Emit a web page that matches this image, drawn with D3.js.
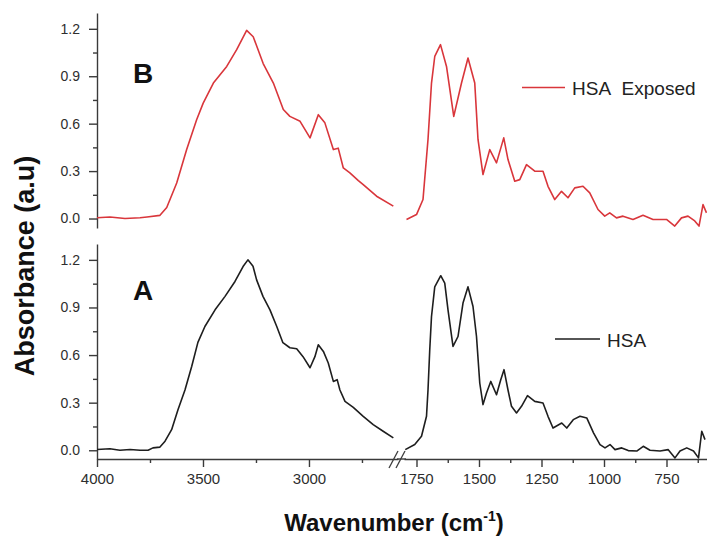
<!DOCTYPE html>
<html><head><meta charset="utf-8">
<script src="https://cdn.jsdelivr.net/npm/d3@7"></script>
<style>
body{margin:0;background:#fff;}
svg{display:block;font-family:"Liberation Sans",Arial,sans-serif;}
</style></head>
<body>
<svg id="c" width="707" height="538"></svg>
<script>
// ---- data (wavenumber cm-1, absorbance a.u.) ----
const yTicks = [0, 0.3, 0.6, 0.9, 1.2];
const yMinorTicks = [0.15, 0.45, 0.75, 1.05];
const xTicksLeft = [4000, 3500, 3000];
const xMinorLeft = [3750, 3250, 2750];
const xTicksRight = [1750, 1500, 1250, 1000, 750];
const xMinorRight = [1625, 1375, 1125, 875, 625];

// Spectrum A (HSA), high-wavenumber segment
const aLeftWn  = [4000,3939,3892,3844,3797,3759,3736,3703,3679,3648,3618,3585,3553,3524,3491,3443,3396,3349,3311,3288,3264,3247,3217,3184,3152,3123,3090,3058,3028,2995,2972,2956,2932,2909,2885,2867,2854,2830,2791,2744,2697,2650,2602];
const aLeftAbs = [0.005,0.01,0.0,0.005,0.0,0.0,0.015,0.02,0.057,0.13,0.256,0.38,0.53,0.68,0.78,0.885,0.97,1.064,1.158,1.20,1.16,1.074,0.97,0.885,0.78,0.678,0.646,0.64,0.59,0.52,0.59,0.665,0.623,0.55,0.434,0.445,0.38,0.308,0.27,0.214,0.162,0.12,0.078];
// Spectrum A (HSA), fingerprint segment
const aRightWn  = [1795,1757,1730,1710,1704,1697,1690,1677,1653,1637,1624,1604,1584,1564,1544,1524,1510,1497,1484,1470,1453,1430,1413,1400,1384,1370,1350,1330,1306,1277,1244,1224,1204,1169,1149,1123,1096,1069,1042,1016,996,976,956,929,903,869,843,816,776,743,716,696,669,642,622,609,596];
const aRightAbs = [0.004,0.036,0.088,0.214,0.38,0.634,0.843,1.03,1.10,1.053,0.885,0.655,0.717,0.928,1.03,0.906,0.717,0.424,0.288,0.361,0.434,0.35,0.445,0.508,0.38,0.277,0.235,0.277,0.344,0.308,0.298,0.214,0.14,0.172,0.14,0.193,0.214,0.204,0.11,0.036,0.015,0.036,0.004,0.015,-0.002,-0.005,0.025,0.0,-0.005,0.004,-0.048,-0.005,0.015,-0.005,-0.048,0.12,0.067];

// Spectrum B (HSA Exposed), high-wavenumber segment
const bLeftWn  = [4000,3939,3868,3797,3764,3703,3671,3624,3577,3530,3499,3451,3388,3341,3294,3263,3216,3168,3121,3090,3042,2995,2956,2925,2885,2862,2838,2807,2767,2744,2681,2602];
const bLeftAbs = [0.005,0.01,0.0,0.005,0.01,0.02,0.07,0.225,0.436,0.625,0.73,0.857,0.962,1.068,1.19,1.15,0.98,0.857,0.69,0.646,0.615,0.51,0.657,0.605,0.436,0.445,0.32,0.289,0.24,0.215,0.141,0.078];
// Spectrum B (HSA Exposed), fingerprint segment
const bRightWn  = [1790,1750,1724,1704,1690,1677,1654,1630,1601,1570,1544,1517,1504,1484,1457,1430,1401,1384,1357,1337,1310,1277,1244,1224,1197,1170,1144,1117,1084,1057,1024,997,977,950,924,884,844,804,750,717,690,664,637,620,604,590];
const bRightAbs = [-0.006,0.025,0.12,0.5,0.857,1.025,1.10,0.962,0.646,0.857,1.015,0.857,0.5,0.278,0.436,0.352,0.51,0.373,0.236,0.246,0.341,0.299,0.299,0.204,0.12,0.172,0.131,0.194,0.204,0.162,0.057,0.015,0.036,0.004,0.015,-0.006,0.02,-0.006,-0.006,-0.048,0.004,0.015,-0.015,-0.048,0.088,0.036];

const legendB = "HSA\u00a0\u00a0Exposed";
const legendA = "HSA";

// ---- drawing ----
const svg = d3.select("#c");
const axisColor = "#3a3a3a";
const xL = d3.scaleLinear().domain([4000, 2580]).range([97, 398]);
const xR = d3.scaleLinear().domain([1800, 590]).range([404, 706.5]);
const yTop = d3.scaleLinear().domain([-0.06, 1.3]).range([228, 13]);
const yBot = d3.scaleLinear().domain([-0.055, 1.3]).range([459, 244]);

function yAxis(y) {
  const g = svg.append("g").attr("transform", "translate(97,0)");
  g.call(d3.axisLeft(y).tickValues(yTicks).tickFormat(d3.format(".1f")).tickSize(8).tickSizeOuter(0));
  g.append("g").call(d3.axisLeft(y).tickValues(yMinorTicks).tickFormat("").tickSize(4).tickSizeOuter(0))
    .select(".domain").remove();
  g.selectAll("path,line").attr("stroke", axisColor).attr("stroke-width", 1.4);
  g.selectAll("text").attr("font-size", 14).attr("fill", "#2e2e2e").attr("x", -17)
    .attr("font-family", '"Liberation Sans",Arial,sans-serif');
}
yAxis(yTop);
yAxis(yBot);

function xAxis(x, major, minor) {
  const g = svg.append("g").attr("transform", "translate(0,459)");
  g.call(d3.axisBottom(x).tickValues(major).tickFormat(d3.format("d")).tickSize(8).tickSizeOuter(0));
  g.append("g").call(d3.axisBottom(x).tickValues(minor).tickFormat("").tickSize(4).tickSizeOuter(0))
    .select(".domain").remove();
  g.selectAll("path,line").attr("stroke", axisColor).attr("stroke-width", 1.4);
  g.selectAll("text").attr("font-size", 15).attr("fill", "#2e2e2e").attr("y", 14)
    .attr("font-family", '"Liberation Sans",Arial,sans-serif');
}
xAxis(xL, xTicksLeft, xMinorLeft);
xAxis(xR, xTicksRight, xMinorRight);

// axis break marks
svg.append("line").attr("x1", 397).attr("x2", 406).attr("y1", 459).attr("y2", 459).attr("stroke", axisColor).attr("stroke-width", 1.4);
[0, 7].forEach(off => {
  svg.append("line").attr("x1", 389 + off).attr("y1", 468).attr("x2", 398 + off).attr("y2", 451)
    .attr("stroke", axisColor).attr("stroke-width", 1.3);
});

function drawSeries(wn, ab, x, y, color) {
  const data = wn.map((w, i) => [w, ab[i]]);
  svg.append("path").datum(data)
    .attr("fill", "none").attr("stroke", color).attr("stroke-width", 1.6)
    .attr("stroke-linejoin", "round")
    .attr("d", d3.line().x(d => x(d[0])).y(d => y(d[1])));
}
const red = "#d9363b", black = "#1e1e1e";
drawSeries(bLeftWn, bLeftAbs, xL, yTop, red);
drawSeries(bRightWn, bRightAbs, xR, yTop, red);
drawSeries(aLeftWn, aLeftAbs, xL, yBot, black);
drawSeries(aRightWn, aRightAbs, xR, yBot, black);

// panel letters
svg.append("text").attr("x", 133).attr("y", 83).attr("font-size", 28).attr("font-weight", "bold").attr("fill", "#111").text("B");
svg.append("text").attr("x", 133).attr("y", 300).attr("font-size", 28).attr("font-weight", "bold").attr("fill", "#111").text("A");

// legends
svg.append("line").attr("x1", 522).attr("x2", 565).attr("y1", 87.5).attr("y2", 87.5).attr("stroke", red).attr("stroke-width", 1.6);
svg.append("text").attr("x", 572).attr("y", 95).attr("font-size", 19).attr("fill", "#222").text(legendB);
svg.append("line").attr("x1", 555).attr("x2", 600).attr("y1", 339).attr("y2", 339).attr("stroke", black).attr("stroke-width", 1.6);
svg.append("text").attr("x", 607).attr("y", 347).attr("font-size", 19).attr("fill", "#222").text(legendA);

// axis titles
svg.append("text").attr("transform", "translate(34,266) rotate(-90)").attr("text-anchor", "middle")
  .attr("font-size", 27).attr("font-weight", "bold").attr("fill", "#111").text("Absorbance (a.u)");
const xt = svg.append("text").attr("x", 394).attr("y", 531).attr("text-anchor", "middle")
  .attr("font-size", 24).attr("font-weight", "bold").attr("fill", "#111");
xt.append("tspan").text("Wavenumber (cm");
xt.append("tspan").attr("font-size", 14).attr("dy", -10).text("-1");
xt.append("tspan").attr("dy", 10).text(")");
</script>
</body></html>
